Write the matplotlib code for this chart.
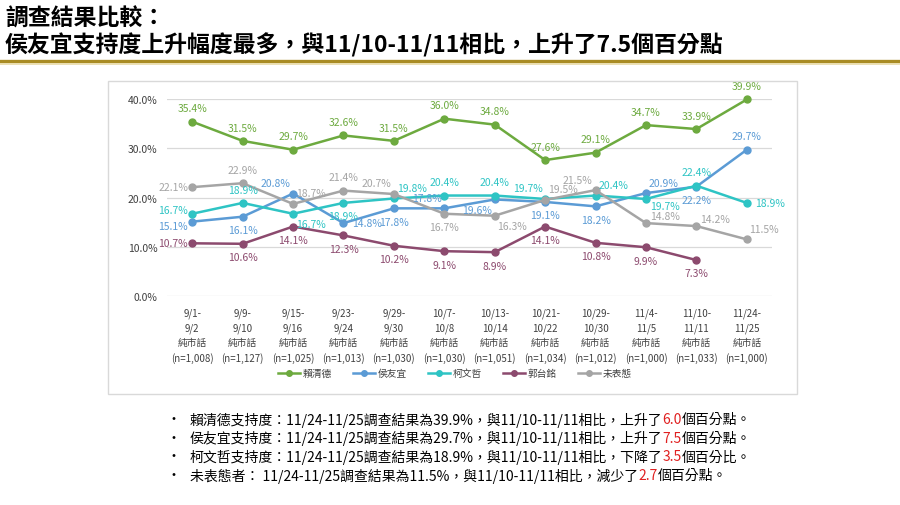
import matplotlib
matplotlib.use("Agg")
import matplotlib.pyplot as plt
from matplotlib.lines import Line2D
from matplotlib.patches import Rectangle
import numpy as np

plt.rcParams['font.family'] = ['Noto Sans CJK TC', 'DejaVu Sans']

# data
periods = ['9/1-\n9/2', '9/9-\n9/10', '9/15-\n9/16', '9/23-\n9/24', '9/29-\n9/30', '10/7-\n10/8',
           '10/13-\n10/14', '10/21-\n10/22', '10/29-\n10/30', '11/4-\n11/5', '11/10-\n11/11', '11/24-\n11/25']
samples = ['1,008', '1,127', '1,025', '1,013', '1,030', '1,030', '1,051', '1,034', '1,012', '1,000', '1,033', '1,000']
names = ['賴清德', '侯友宜', '柯文哲', '郭台銘', '未表態']
lai = [35.4, 31.5, 29.7, 32.6, 31.5, 36.0, 34.8, 27.6, 29.1, 34.7, 33.9, 39.9]
hou = [15.1, 16.1, 20.8, 14.8, 17.8, 17.8, 19.6, 19.1, 18.2, 20.9, 22.2, 29.7]
ko = [16.7, 18.9, 16.7, 18.9, 19.8, 20.4, 20.4, 19.7, 20.4, 19.7, 22.4, 18.9]
gou = [10.7, 10.6, 14.1, 12.3, 10.2, 9.1, 8.9, 14.1, 10.8, 9.9, 7.3, np.nan]
undecided = [22.1, 22.9, 18.7, 21.4, 20.7, 16.7, 16.3, 19.5, 21.5, 14.8, 14.2, 11.5]
series = [lai, hou, ko, gou, undecided]
colors = ['#6DAA3F', '#5B9BD5', '#2EC4C4', '#8C4A6E', '#A5A5A5']

# where each data label sits relative to its point
label_pos = [
    ['a'] * 12,
    ['ld', 'b', 'al', 'r', 'b', 'al', 'bl', 'b', 'b', 'ar', 'b', 'a'],
    ['lu', 'a', 'br', 'b', 'ar', 'a', 'a', 'al', 'ar', 'rd', 'a', 'r'],
    ['l', 'b', 'b', 'b', 'b', 'b', 'b', 'b', 'b', 'b', 'b', 'b'],
    ['l', 'a', 'ar', 'a', 'al', 'b', 'br', 'ar', 'al', 'ru', 'ru', 'ar'],
]
offsets = {
    'a': ((0, 6), 'center', 'bottom'), 'b': ((0, -6), 'center', 'top'),
    'l': ((-3, 0), 'right', 'center'), 'r': ((6, 0), 'left', 'center'),
    'lu': ((-3, 3), 'right', 'center'), 'ld': ((-3, -3), 'right', 'center'),
    'ru': ((3, 5), 'left', 'center'), 'rd': ((3, -5), 'left', 'center'),
    'al': ((-2, 4), 'right', 'bottom'), 'ar': ((2, 4), 'left', 'bottom'),
    'bl': ((-2, -4), 'right', 'top'), 'br': ((2, -4), 'left', 'top'),
}

W, H = 900, 506
fig = plt.figure(figsize=(9, 5.06), dpi=100)

# title
fig.text(5 / W, 1 - 19 / H, '調查結果比較：', fontsize=16.5, fontweight='bold', va='center', ha='left')
fig.text(5 / W, 1 - 45 / H, '侯友宜支持度上升幅度最多，與11/10-11/11相比，上升了7.5個百分點',
         fontsize=16.5, fontweight='bold', va='center', ha='left')
fig.add_artist(Line2D([0, 1], [1 - 62 / H, 1 - 62 / H], color='#A98C25', lw=2.4))
fig.add_artist(Line2D([0, 1], [1 - 64.5 / H, 1 - 64.5 / H], color='#E9DCA8', lw=1.2))

# chart frame
fig.add_artist(Rectangle((108 / W, 1 - 395 / H), (797 - 108) / W, (395 - 82) / H,
                         transform=fig.transFigure, fill=False, edgecolor='#D9D9D9', lw=1))

ax = fig.add_axes([167 / W, 1 - 297 / H, (772 - 167) / W, (297 - 100) / H])
x = np.arange(len(periods))
for vals, name, c, pos in zip(series, names, colors, label_pos):
    ax.plot(x, vals, color=c, lw=1.8, marker='o', markersize=5, label=name, clip_on=False, zorder=3)
    for xi, v, p in zip(x, vals, pos):
        if np.isnan(v):
            continue
        off, ha, va = offsets[p]
        ax.annotate(f'{v:.1f}%', (xi, v), xytext=off, textcoords='offset points',
                    ha=ha, va=va, fontsize=7.5, color=c, zorder=4)

ax.set_xlim(-0.5, len(periods) - 0.5)
ax.set_ylim(0, 40)
ax.set_yticks([0, 10, 20, 30, 40])
ax.set_yticklabels([f'{t:.1f}%' for t in [0, 10, 20, 30, 40]])
ax.set_xticks(x)
ax.set_xticklabels([f'{p}\n純市話\n(n={n})' for p, n in zip(periods, samples)], linespacing=1.55)
ax.tick_params(axis='y', length=0, pad=7, labelsize=7.5, labelcolor='#404040')
ax.tick_params(axis='x', length=0, pad=8, labelsize=7, labelcolor='#404040')
ax.grid(axis='y', color='#D9D9D9', lw=0.9)
ax.set_axisbelow(True)
for s in ax.spines.values():
    s.set_visible(False)

fig.legend(loc='center', bbox_to_anchor=(455 / W, 1 - 374 / H), ncol=5, frameon=False,
           fontsize=7, handlelength=2.2, columnspacing=2.2, handletextpad=0.3, markerscale=0.8,
           labelcolor='#404040')

# bullet notes with highlighted numbers
notes = [
    ['賴清德支持度：11/24-11/25調查結果為39.9%，與11/10-11/11相比，上升了', '6.0', '個百分點。'],
    ['侯友宜支持度：11/24-11/25調查結果為29.7%，與11/10-11/11相比，上升了', '7.5', '個百分點。'],
    ['柯文哲支持度：11/24-11/25調查結果為18.9%，與11/10-11/11相比，下降了', '3.5', '個百分比。'],
    ['未表態者： 11/24-11/25調查結果為11.5%，與11/10-11/11相比，減少了', '2.7', '個百分點。'],
]
renderer = fig.canvas.get_renderer()
for i, parts in enumerate(notes):
    y = 1 - (420 + i * 18.7) / H
    fig.text(173 / W, y, '•', fontsize=10, ha='center', va='center')
    xp = 190 / W
    for j, part in enumerate(parts):
        t = fig.text(xp, y, part, fontsize=10, ha='left', va='center',
                     color='#E02020' if j == 1 else 'black')
        bb = t.get_window_extent(renderer)
        xp = bb.x1 / fig.bbox.width

fig.savefig('out.png', dpi=100)
